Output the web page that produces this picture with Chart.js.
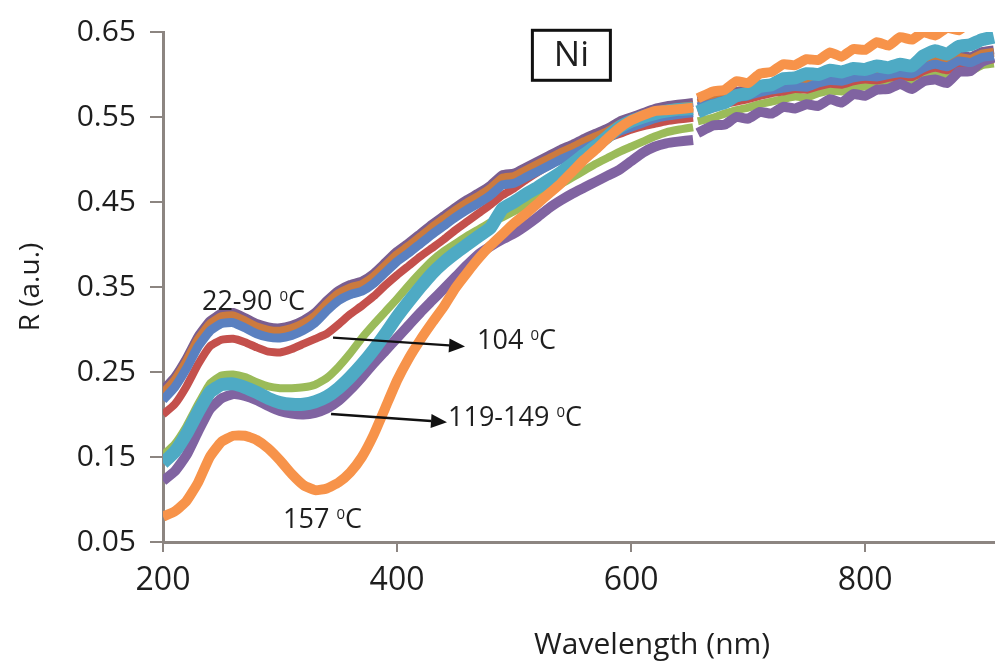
<!DOCTYPE html>
<html><head><meta charset="utf-8">
<script src="https://cdn.jsdelivr.net/npm/chart.js@4"></script>
<style>html,body{margin:0;padding:0;background:#fff}#wrap{width:995px;height:663px}</style>
</head><body><div id="wrap"><canvas id="c" width="995" height="663"></canvas></div>
<script>
// Wavelength (nm) sample positions; 655 marks the break in the measured spectra
const wavelengths = [200,210,220,230,240,250,260,270,280,290,300,310,320,330,340,350,360,370,380,390,400,410,420,430,440,450,460,470,480,490,500,510,520,530,540,550,560,570,580,590,600,610,620,630,640,653,655,657,670,680,690,700,710,720,730,740,750,760,770,780,790,800,810,820,830,840,850,860,870,880,890,900,910];
const xTicks = [200,400,600,800];
const yTicks = [0.05,0.15,0.25,0.35,0.45,0.55,0.65];

const r157 = [.080,.086,.098,.120,.150,.168,.175,.175,.170,.160,.146,.130,.117,.111,.113,.120,.132,.150,.176,.208,.240,.266,.288,.308,.327,.349,.367,.384,.399,.412,.425,.436,.448,.460,.472,.486,.500,.512,.525,.537,.546,.552,.557,.558,.559,.561,null,.572,.580,.582,.592,.590,.601,.603,.612,.611,.618,.617,.626,.621,.630,.629,.638,.634,.644,.641,.650,.646,.655,.652,.662,.658,.664];
const r134 = [.143,.156,.177,.203,.226,.235,.236,.232,.226,.219,.214,.212,.212,.215,.221,.231,.244,.259,.276,.295,.315,.333,.350,.366,.379,.390,.400,.410,.420,.442,.450,.459,.467,.476,.485,.495,.506,.516,.527,.538,.545,.550,.554,.557,.559,.560,null,.556,.563,.567,.575,.578,.586,.588,.595,.596,.601,.600,.605,.603,.607,.606,.610,.608,.612,.610,.622,.628,.624,.633,.635,.641,.644];
const r60 = [.217,.232,.254,.280,.298,.307,.308,.302,.295,.291,.290,.293,.299,.308,.322,.334,.341,.345,.354,.367,.380,.390,.401,.412,.422,.432,.441,.449,.458,.470,.472,.479,.486,.493,.500,.506,.513,.519,.525,.533,.538,.543,.548,.551,.553,.555,null,.562,.566,.570,.573,.575,.579,.582,.584,.586,.585,.590,.593,.592,.596,.598,.597,.600,.602,.601,.608,.612,.609,.616,.614,.620,.622];
const r90 = [.225,.240,.262,.288,.306,.315,.316,.310,.303,.299,.298,.301,.307,.316,.330,.342,.349,.353,.362,.375,.388,.398,.409,.420,.430,.440,.449,.457,.466,.478,.480,.487,.494,.501,.508,.514,.521,.527,.533,.541,.546,.551,.556,.559,.561,.563,null,.566,.570,.574,.577,.579,.583,.586,.588,.590,.589,.594,.597,.596,.600,.602,.601,.604,.606,.605,.612,.616,.613,.620,.618,.624,.626];
const r22 = [.229,.244,.266,.292,.310,.319,.320,.314,.307,.303,.302,.305,.311,.320,.334,.346,.353,.357,.366,.379,.392,.402,.413,.424,.434,.444,.453,.461,.470,.482,.484,.491,.498,.505,.512,.518,.525,.531,.537,.545,.550,.555,.560,.563,.565,.567,null,.569,.573,.577,.580,.582,.586,.589,.591,.593,.592,.597,.600,.599,.603,.605,.604,.607,.609,.608,.615,.619,.616,.623,.621,.627,.629];
const r149 = [.122,.133,.152,.180,.206,.219,.224,.222,.217,.210,.204,.201,.200,.202,.207,.216,.229,.244,.260,.275,.290,.305,.320,.334,.348,.362,.376,.389,.398,.406,.413,.422,.432,.443,.452,.460,.467,.474,.481,.488,.498,.508,.515,.519,.521,.523,null,.531,.540,.541,.550,.548,.556,.554,.562,.560,.565,.563,.571,.567,.577,.575,.582,.583,.589,.583,.592,.594,.590,.603,.604,.615,.620];
const r104 = [.200,.212,.233,.259,.280,.288,.289,.285,.279,.274,.273,.277,.283,.289,.295,.306,.318,.328,.339,.352,.364,.375,.386,.396,.406,.417,.427,.437,.447,.458,.466,.476,.485,.493,.500,.507,.513,.519,.525,.530,.535,.539,.542,.545,.547,.549,null,.556,.560,.565,.568,.571,.575,.578,.580,.583,.582,.586,.589,.588,.592,.594,.593,.596,.598,.597,.604,.608,.605,.612,.610,.616,.618];
const r119 = [.152,.165,.186,.212,.236,.246,.247,.244,.238,.233,.231,.231,.232,.235,.243,.256,.272,.290,.306,.321,.336,.352,.367,.381,.392,.401,.410,.418,.426,.432,.439,.447,.455,.463,.471,.479,.487,.495,.502,.509,.515,.521,.527,.532,.535,.538,null,.545,.549,.554,.558,.561,.565,.568,.571,.574,.573,.578,.581,.580,.584,.586,.585,.589,.591,.590,.597,.601,.598,.606,.604,.611,.613];

// first entry is drawn on top
const seriesList = [
  {label:'157 °C', values:r157, color:'#f7934a', width:10},
  {label:'134 °C', values:r134, color:'#4eaac4', width:13},
  {label:'60 °C',  values:r60,  color:'#5a80c0', width:9},
  {label:'90 °C',  values:r90,  color:'#cc7a3e', width:9},
  {label:'22 °C',  values:r22,  color:'#7a5e90', width:9},
  {label:'149 °C', values:r149, color:'#8063a1', width:10},
  {label:'104 °C', values:r104, color:'#c4504c', width:8},
  {label:'119 °C', values:r119, color:'#9bbb59', width:8}
];

const datasets = seriesList.map(s => ({
  label: s.label,
  data: wavelengths.map((w,i) => ({x:w, y:s.values[i]})),
  borderColor: s.color,
  backgroundColor: s.color,
  borderWidth: s.width,
  pointRadius: 0,
  spanGaps: false,
  tension: 0.15,
  borderJoinStyle: 'round',
  fill: false
}));

const AXIS = '#8c8581';
const TXT = '#1e1e1e';
Chart.defaults.font.family = '"Open Sans", sans-serif';
Chart.defaults.color = TXT;

const annotPlugin = {
  id: 'annot',
  afterDraw(chart) {
    const ctx = chart.ctx, xs = chart.scales.x, ys = chart.scales.y;
    const px = v => xs.getPixelForValue(v), py = v => ys.getPixelForValue(v);
    ctx.save();
    ctx.fillStyle = TXT;
    ctx.textBaseline = 'alphabetic';
    ctx.textAlign = 'left';
    const label = (wl, r, main) => {
      let x = px(wl), y = py(r);
      ctx.font = '27px "Open Sans"';
      ctx.fillText(main, x, y);
      x += ctx.measureText(main).width;
      ctx.font = '15px "Open Sans"';
      ctx.fillText('0', x, y - 9);
      x += ctx.measureText('0').width;
      ctx.font = '27px "Open Sans"';
      ctx.fillText('C', x, y);
    };
    label(233.3, 0.323, '22-90 ');
    label(468.4, 0.2776, '104 ');
    label(443.6, 0.1866, '119-149 ');
    label(302.6, 0.0663, '157 ');

    const arrow = (w1, r1, w2, r2) => {
      const x1 = px(w1), y1 = py(r1), x2 = px(w2), y2 = py(r2);
      const a = Math.atan2(y2 - y1, x2 - x1);
      const L = 16, H = 7;
      ctx.strokeStyle = '#111'; ctx.lineWidth = 2.4;
      ctx.beginPath(); ctx.moveTo(x1, y1);
      ctx.lineTo(x2 - L * Math.cos(a), y2 - L * Math.sin(a)); ctx.stroke();
      ctx.fillStyle = '#111';
      ctx.beginPath();
      ctx.moveTo(x2, y2);
      ctx.lineTo(x2 - L * Math.cos(a) + H * Math.sin(a), y2 - L * Math.sin(a) - H * Math.cos(a));
      ctx.lineTo(x2 - L * Math.cos(a) - H * Math.sin(a), y2 - L * Math.sin(a) + H * Math.cos(a));
      ctx.closePath(); ctx.fill();
    };
    arrow(345.3, 0.2905, 458.1, 0.280);
    arrow(343.6, 0.2006, 442.7, 0.191);

    // "Ni" box
    const cx = px(549), cy = py(0.6226);
    ctx.fillStyle = '#fff';
    ctx.fillRect(cx - 39, cy - 25, 78, 50);
    ctx.strokeStyle = '#111'; ctx.lineWidth = 3;
    ctx.strokeRect(cx - 39, cy - 25, 78, 50);
    ctx.fillStyle = TXT;
    ctx.font = '35px "Open Sans"';
    ctx.textAlign = 'center'; ctx.textBaseline = 'middle';
    ctx.fillText('Ni', cx, cy + 1);

    // x-axis title
    ctx.font = '30px "Open Sans"';
    ctx.textAlign = 'center'; ctx.textBaseline = 'alphabetic';
    ctx.fillText('Wavelength (nm)', px(618), chart.chartArea.bottom + 112);
    ctx.restore();
  }
};

new Chart(document.getElementById('c'), {
  type: 'line',
  data: { datasets },
  options: {
    responsive: false,
    animation: false,
    layout: { padding: { top: 28, right: 0, bottom: 0, left: 0 } },
    plugins: { legend: { display: false }, tooltip: { enabled: false } },
    scales: {
      x: {
        type: 'linear', min: 200, max: 911,
        afterBuildTicks: a => { a.ticks = xTicks.map(v => ({ value: v })); },
        afterFit: s => { s.height = 121; },
        grid: { drawOnChartArea: false, drawTicks: true, tickLength: 10, color: AXIS, lineWidth: 2 },
        border: { color: AXIS, width: 3 },
        ticks: { font: { size: 32 }, color: TXT, padding: 10, maxRotation: 0 }
      },
      y: {
        type: 'linear', min: 0.05, max: 0.65,
        afterBuildTicks: a => { a.ticks = yTicks.map(v => ({ value: v })); },
        afterFit: s => { s.width = 163; },
        grid: { drawOnChartArea: false, drawTicks: true, tickLength: 13, color: AXIS, lineWidth: 2 },
        border: { color: AXIS, width: 3 },
        ticks: { font: { size: 30 }, color: TXT, padding: 14, callback: v => Number(v).toFixed(2) },
        title: { display: true, text: 'R (a.u.)', font: { size: 28 }, color: TXT, padding: { top: 14, bottom: 0 } }
      }
    }
  },
  plugins: [annotPlugin]
});
</script></body></html>
